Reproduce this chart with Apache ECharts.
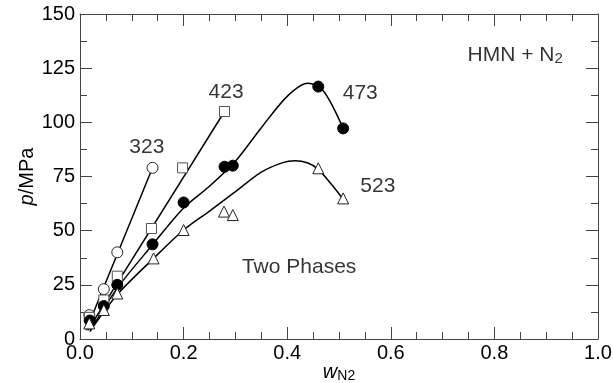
<!DOCTYPE html>
<html>
<head>
<meta charset="utf-8">
<script src="https://cdn.jsdelivr.net/npm/echarts@6/dist/echarts.min.js"></script>
<style>html,body{margin:0;padding:0;background:#fff}#c{width:613px;height:383px}</style>
</head>
<body>
<div id="c"></div>
<script>
// Measured points [w_N2, p/MPa]
var pts323 = [[0.018,11],[0.046,23],[0.072,40],[0.14,79]];
var pts423 = [[0.018,10],[0.046,18],[0.072,29],[0.138,51],[0.198,79],[0.279,105]];
var pts473 = [[0.019,8.5],[0.046,15.2],[0.072,25],[0.14,43.7],[0.2,63],[0.279,79.5],[0.295,80],[0.46,116.5],[0.508,97.2]];
var pts523 = [[0.018,7.2],[0.046,13.4],[0.072,21],[0.142,37.2],[0.2,50.3],[0.278,58.8],[0.295,57.2],[0.46,78.8],[0.508,64.9]];
// Fitted curves
var fit323 = [[0.012,4],[0.14,79]];
var fit423 = [[0.015,4],[0.279,105]];
var fit473 = [[0.02,4],[0.072,23.5],[0.14,43.5],[0.2,60.5],[0.25,70.5],[0.3,82],[0.35,97.5],[0.4,112],[0.44,118],[0.47,114.5],[0.508,97.2]];
var fit523 = [[0.019,3.4],[0.072,20.5],[0.142,37.2],[0.2,50.3],[0.25,59],[0.3,68],[0.35,77],[0.39,81.3],[0.415,82.3],[0.44,81.2],[0.46,78.3],[0.485,71.5],[0.508,64.5]];
// Text annotations
var annoText = ['323','423','473','523','{a|HMN + N}{s|2}','Two Phases'];
var annoPos = [[0.129,88.6],[0.282,114],[0.541,113.5],[0.575,70.6],[0.84,131],[0.423,33.2]];
var xTicks = [0,0.2,0.4,0.6,0.8,1.0];
var yTicks = [0,25,50,75,100,125,150];

var FONT = 'Liberation Sans, Arial, sans-serif';
var axisColor = '#444';
function xAx(pos, showLabel){
  return {type:'value', position:pos, min:xTicks[0], max:xTicks[xTicks.length-1], interval:0.2,
    axisLine:{show:true, onZero:false, lineStyle:{color:axisColor, width:1}},
    axisTick:{show:true, inside:true, length:12, lineStyle:{color:axisColor}},
    minorTick:{show:true, splitNumber:4, length:7, lineStyle:{color:axisColor}},
    splitLine:{show:false},
    axisLabel:{show:showLabel, fontSize:20, color:'#000', fontFamily:FONT, margin:4, formatter:function(v){return v.toFixed(1);}},
    name: showLabel ? '{i|w}{s|N2}' : '', nameLocation:'middle', nameGap:22, nameMoveOverlap:false,
    nameTextStyle:{rich:{i:{fontSize:20, fontStyle:'italic', fontFamily:FONT, color:'#000'}, s:{fontSize:14, fontFamily:FONT, color:'#000', verticalAlign:'bottom', padding:[8,0,0,0]}}}
  };
}
function yAx(pos, showLabel){
  return {type:'value', position:pos, min:yTicks[0], max:yTicks[yTicks.length-1], interval:25,
    axisLine:{show:true, onZero:false, lineStyle:{color:axisColor, width:1}},
    axisTick:{show:true, inside:true, length:12, lineStyle:{color:axisColor}},
    minorTick:{show:true, splitNumber:2, length:7, lineStyle:{color:axisColor}},
    splitLine:{show:false},
    axisLabel:{show:showLabel, fontSize:20, color:'#000', fontFamily:FONT, margin:5},
    name: showLabel ? '{i|p}/MPa' : '', nameLocation:'middle', nameGap:43, nameRotate:90, nameMoveOverlap:false,
    nameTextStyle:{fontSize:20, fontFamily:FONT, color:'#000', rich:{i:{fontSize:20, fontStyle:'italic', fontFamily:FONT, color:'#000'}}}
  };
}
function fitLine(d, smooth){
  return {type:'line', data:d, showSymbol:false, smooth:smooth, silent:true, z:2,
    lineStyle:{color:'#000', width:1.5}, itemStyle:{color:'#000'}};
}
function pts(d, symbol, fill, border, size){
  return {type:'scatter', data:d, symbol:symbol, symbolSize:size, z:5,
    itemStyle:{color:fill, borderColor:border, borderWidth:1, opacity:1}};
}
var annoData = annoText.map(function(t,i){return {value:annoPos[i], name:t};});
var chart = echarts.init(document.getElementById('c'), null, {renderer:'canvas'});
chart.setOption({
  animation:false,
  grid:{left:80, right:15, top:14, bottom:44, containLabel:false, outerBoundsMode:'none'},
  xAxis:[xAx('bottom', true), xAx('top', false)],
  yAxis:[yAx('left', true), yAx('right', false)],
  series:[
    fitLine(fit323, false), fitLine(fit423, false), fitLine(fit473, 0.3), fitLine(fit523, 0.3),
    pts(pts323, 'circle', '#fff', '#222', 11),
    pts(pts423, 'rect', '#fff', '#555', 10),
    pts(pts473, 'circle', '#000', '#000', 11),
    pts(pts523, 'triangle', '#fff', '#222', 11),
    {type:'scatter', data:annoData, symbolSize:0, silent:true, z:6,
      label:{show:true, position:'inside', color:'#000', fontSize:21, fontFamily:FONT, textBorderWidth:0,
        formatter:function(p){return p.name;},
        rich:{a:{fontSize:21, fontFamily:FONT, color:'#000'}, s:{fontSize:15, fontFamily:FONT, color:'#000', verticalAlign:'bottom', padding:[8,0,0,0]}}}}
  ]
});
</script>
</body>
</html>
